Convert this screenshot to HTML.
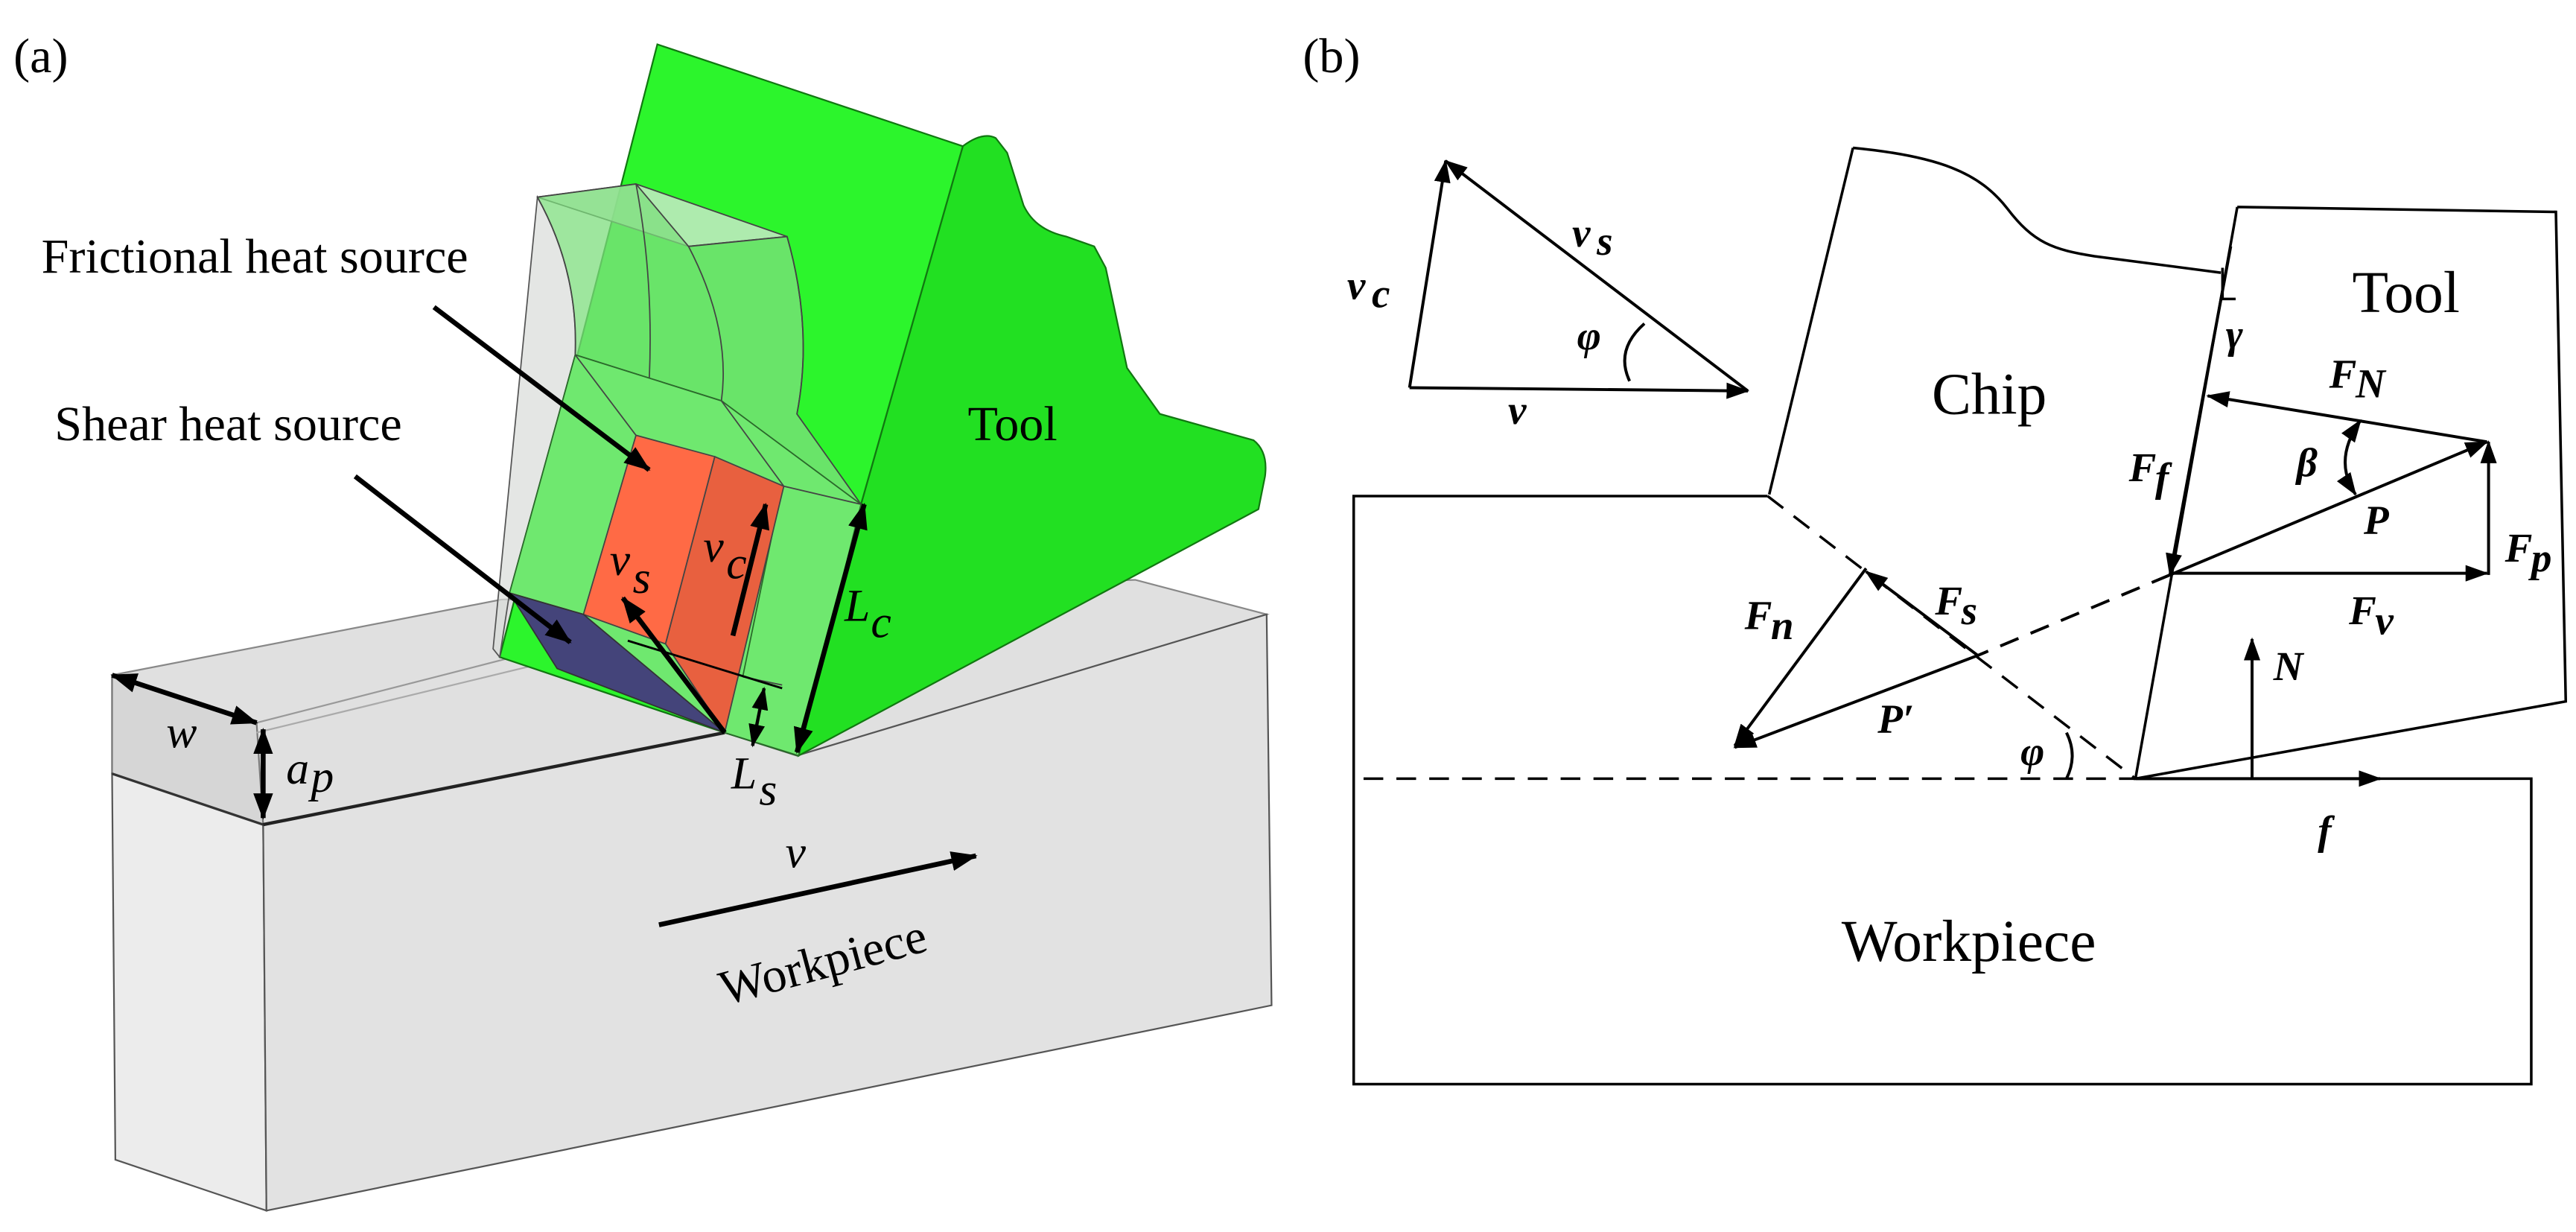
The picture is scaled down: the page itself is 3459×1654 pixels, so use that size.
<!DOCTYPE html>
<html><head><meta charset="utf-8"><style>
html,body{margin:0;padding:0;background:#fff;}
svg{display:block;}
text{font-family:"Liberation Serif",serif;}
.m{font-style:italic;font-weight:bold;font-size:25px;}
.ai{font-style:italic;font-size:28px;}
</style></head><body>
<svg width="3459" height="1654" viewBox="0 0 1568 750" xmlns="http://www.w3.org/2000/svg">
<defs>
<marker id="ah" viewBox="0 0 14 10" refX="13" refY="5" markerWidth="14" markerHeight="10" markerUnits="userSpaceOnUse" orient="auto-start-reverse"><path d="M0,0 L14,5 L0,10 z" fill="#000"/></marker>
<marker id="ab" viewBox="0 0 16 12" refX="15" refY="6" markerWidth="16" markerHeight="12" markerUnits="userSpaceOnUse" orient="auto-start-reverse"><path d="M0,0 L16,6 L0,12 z" fill="#000"/></marker>
<linearGradient id="chipg" x1="0" y1="0" x2="1" y2="0">
<stop offset="0" stop-color="#c8d8c8" stop-opacity="0.7"/><stop offset="1" stop-color="#8fe08f" stop-opacity="0.7"/></linearGradient>
</defs>

<!-- ================= Panel (a) ================= -->
<text x="8" y="44" font-size="30">(a)</text>

<!-- workpiece -->
<polygon points="68,411 305,365 691,353 771,374 485,460 441,446 160,502 68,471" fill="#e0e0e0" stroke="#888" stroke-width="1"/>
<polygon points="68,411 156,440 160,502 68,471" fill="#d6d6d6" stroke="#777" stroke-width="1"/>
<polygon points="68,471 160,502 162,737 70,706" fill="#ececec" stroke="#555" stroke-width="1"/>
<polygon points="160,502 441,446 485,460 771,374 774,612 162,737" fill="#e2e2e2" stroke="#555" stroke-width="1"/>
<line x1="156" y1="440" x2="320" y2="398" stroke="#999" stroke-width="1"/>
<line x1="156" y1="446" x2="325" y2="405" stroke="#aaa" stroke-width="1"/>
<line x1="68" y1="471" x2="160" y2="502" stroke="#333" stroke-width="1.5"/>
<line x1="160" y1="502" x2="441" y2="446" stroke="#222" stroke-width="2"/>

<!-- tool side face -->
<path d="M586,89 Q598,80 606,84 L613,93 L623,125 Q630,140 649,144 L666,150 L673,163 L686,224 L706,252 L763,268 Q772,275 770,290 L766,310 L486,460 L524,307 Z" fill="#22e022" stroke="#117711" stroke-width="1"/>
<!-- tool front face -->
<polygon points="400,27 586,89 524,307 486,460 441,446 304,400" fill="#2cf52c" stroke="#117711" stroke-width="1"/>

<!-- chip -->
<path d="M327,120 Q352,165 350,216 L310,361 L304,400 L300,395 Z" fill="#d8dcd8" fill-opacity="0.7" stroke="#555" stroke-width="0.8"/>
<path d="M327,120 L387,112 L479,144 L419,150 Z" fill="#cfe8cf" fill-opacity="0.8" stroke="#444" stroke-width="0.8"/>
<path d="M350,216 Q352,165 327,120 L387,112 L419,150 L479,144 Q495,200 485,252 L524,307 L439,244 Z" fill="#7ede7e" fill-opacity="0.75" stroke="#444" stroke-width="0.8"/>
<path d="M387,112 Q398,170 395,233" fill="none" stroke="#444" stroke-width="0.8"/>
<path d="M419,150 Q445,200 439,244" fill="none" stroke="#444" stroke-width="0.8"/>
<path d="M479,144 Q495,200 485,252" fill="none" stroke="#444" stroke-width="0.8"/>
<polygon points="350,216 439,244 524,307 486,460 441,446 310,361" fill="#6fe86f" stroke="#2a6a2a" stroke-width="0.8"/>
<line x1="350" y1="216" x2="387" y2="265" stroke="#444" stroke-width="0.8"/>
<line x1="439" y1="244" x2="477" y2="296" stroke="#444" stroke-width="0.8"/>
<line x1="477" y1="296" x2="524" y2="307" stroke="#444" stroke-width="0.8"/>
<line x1="310" y1="361" x2="355" y2="374" stroke="#444" stroke-width="0.8"/>
<line x1="452" y1="412" x2="476" y2="417" stroke="#444" stroke-width="0.8"/>
<line x1="476" y1="296" x2="452" y2="412" stroke="#2a6a2a" stroke-width="0.8"/>
<!-- red heat sources -->
<polygon points="387,265 435,278 405,392 355,374" fill="#ff6a45" stroke="#444" stroke-width="0.8"/>
<polygon points="435,278 477,296 441,446 405,392" fill="#e8603f" stroke="#444" stroke-width="0.8"/>
<!-- shear blue -->
<polygon points="310,361 355,374 441,446 339,407" fill="#44447a" stroke="#333" stroke-width="0.8"/>
<line x1="382" y1="390" x2="476" y2="419" stroke="#000" stroke-width="1.3"/>

<!-- arrows panel a -->
<line x1="264" y1="187" x2="395" y2="286" stroke="#000" stroke-width="3" marker-end="url(#ab)"/>
<line x1="216" y1="290" x2="347" y2="391" stroke="#000" stroke-width="3" marker-end="url(#ab)"/>
<line x1="441" y1="446" x2="379" y2="364" stroke="#000" stroke-width="3" marker-end="url(#ab)"/>
<line x1="446" y1="387" x2="466" y2="307" stroke="#000" stroke-width="3" marker-end="url(#ab)"/>
<line x1="485" y1="458" x2="526" y2="307" stroke="#000" stroke-width="3" marker-start="url(#ab)" marker-end="url(#ab)"/>
<line x1="458" y1="454" x2="465" y2="419" stroke="#000" stroke-width="2" marker-start="url(#ah)" marker-end="url(#ah)"/>
<line x1="68" y1="411" x2="156" y2="440" stroke="#000" stroke-width="3" marker-start="url(#ab)" marker-end="url(#ab)"/>
<line x1="160" y1="444" x2="160" y2="498" stroke="#000" stroke-width="3" marker-start="url(#ab)" marker-end="url(#ab)"/>
<line x1="401" y1="563" x2="594" y2="521" stroke="#000" stroke-width="3" marker-end="url(#ab)"/>

<text x="25" y="166" font-size="30">Frictional heat source</text>
<text x="33" y="268" font-size="30">Shear heat source</text>
<text x="589" y="268" font-size="30">Tool</text>
<text x="0" y="0" font-size="30" transform="translate(441,612) rotate(-15)">Workpiece</text>
<text x="101" y="455" class="ai">w</text>
<text x="174" y="477" class="ai">a</text><text x="189" y="482" class="ai" font-size="20">p</text>
<text x="371" y="350" class="ai">v</text><text x="385" y="361" class="ai" font-size="18">s</text>
<text x="428" y="342" class="ai">v</text><text x="442" y="352" class="ai" font-size="18">c</text>
<text x="514" y="378" class="ai">L</text><text x="530" y="388" class="ai" font-size="20">c</text>
<text x="445" y="480" class="ai">L</text><text x="462" y="490" class="ai" font-size="20">s</text>
<text x="478" y="528" class="ai">v</text>

<!-- ================= Panel (b) ================= -->
<text x="793" y="44" font-size="30">(b)</text>
<g stroke="#000" stroke-width="1.6" fill="none">
<polyline points="1076,302 824,302 824,660 1541,660 1541,474 1300,474"/>
<line x1="1076" y1="302" x2="1300" y2="474" stroke-dasharray="12,8"/>
<line x1="830" y1="474" x2="1300" y2="474" stroke-dasharray="12,8"/>
<line x1="1077" y1="301" x2="1128" y2="90"/>
<path d="M1128,90 C1180,95 1205,105 1222,127 C1238,148 1250,152 1275,156 L1352,166"/>
<polyline points="1362,126 1556,129 1562,427 1300,474 1362,126"/>
<polyline points="1353,163 1353,182 1361,182"/>
</g>
<g stroke="#000" stroke-width="1.8" fill="none">
<line x1="858" y1="236" x2="1064" y2="238" marker-end="url(#ah)"/>
<line x1="858" y1="236" x2="880" y2="98" marker-end="url(#ah)"/>
<line x1="1064" y1="238" x2="880" y2="98" marker-end="url(#ah)"/>
<path d="M992,232 Q983,213 1001,197"/>
<line x1="1514" y1="269" x2="1344" y2="241" marker-end="url(#ah)"/>
<line x1="1321" y1="350" x2="1514" y2="269" marker-end="url(#ah)"/>
<line x1="1358" y1="150" x2="1321" y2="350" marker-end="url(#ah)"/>
<line x1="1321" y1="349" x2="1514" y2="349" marker-end="url(#ah)"/>
<line x1="1515" y1="350" x2="1515" y2="269" marker-end="url(#ah)"/>
<path d="M1437,256 Q1420,280 1434,301" marker-start="url(#ah)" marker-end="url(#ah)"/>
<line x1="1371" y1="474" x2="1371" y2="389" marker-end="url(#ah)"/>
<line x1="1300" y1="474" x2="1449" y2="474" marker-end="url(#ah)"/>
<line x1="1321" y1="350" x2="1204" y2="399" stroke-dasharray="12,8"/>
<line x1="1204" y1="399" x2="1056" y2="455" marker-end="url(#ah)"/>
<line x1="1204" y1="399" x2="1136" y2="348" marker-end="url(#ah)"/>
<line x1="1136" y1="346" x2="1056" y2="454" marker-end="url(#ah)"/>
<path d="M1258,446 Q1265,460 1258,474"/>
</g>
<text x="1176" y="252" font-size="36">Chip</text>
<text x="1432" y="190" font-size="36">Tool</text>
<text x="1121" y="585" font-size="36">Workpiece</text>
<text x="820" y="182" class="m">v</text><text x="835" y="187" class="m" font-size="18">c</text>
<text x="957" y="150" class="m">v</text><text x="972" y="155" class="m" font-size="18">s</text>
<text x="960" y="213" class="m">φ</text>
<text x="918" y="258" class="m">v</text>
<text x="1355" y="212" class="m">γ</text>
<text x="1418" y="236" class="m">F</text><text x="1434" y="242" class="m" font-size="18">N</text>
<text x="1398" y="290" class="m">β</text>
<text x="1439" y="325" class="m">P</text>
<text x="1296" y="293" class="m">F</text><text x="1312" y="299" class="m" font-size="18">f</text>
<text x="1430" y="380" class="m">F</text><text x="1446" y="386" class="m" font-size="18">v</text>
<text x="1525" y="342" class="m">F</text><text x="1541" y="348" class="m" font-size="18">p</text>
<text x="1384" y="414" class="m">N</text>
<text x="1411" y="514" class="m">f</text>
<text x="1143" y="446" class="m">P′</text>
<text x="1178" y="374" class="m">F</text><text x="1194" y="380" class="m" font-size="18">s</text>
<text x="1062" y="383" class="m">F</text><text x="1078" y="389" class="m" font-size="18">n</text>
<text x="1230" y="466" class="m">φ</text>
</svg>
</body></html>
